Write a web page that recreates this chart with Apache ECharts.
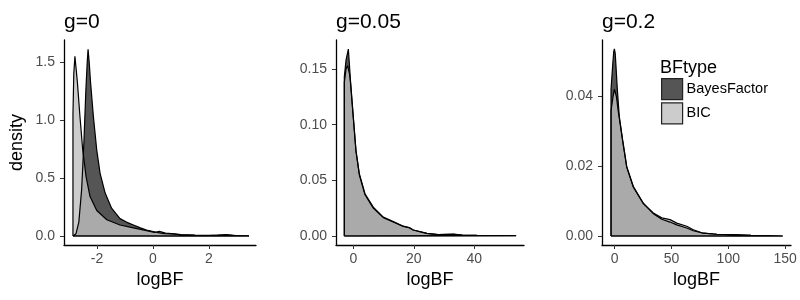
<!DOCTYPE html>
<html>
<head>
<meta charset="utf-8">
<script src="https://cdn.jsdelivr.net/npm/echarts@6/dist/echarts.min.js"></script>
<style>
html, body { margin: 0; padding: 0; background: #fff; }
#main { width: 800px; height: 300px; }
</style>
</head>
<body>
<div id="main"></div>
<script>
// density curves, one x list and one y list per series
var g0BayesX = [-2.86, -2.75, -2.65, -2.55, -2.47, -2.40, -2.35, -2.32, -2.28, -2.23, -2.13, -2.01, -1.89, -1.71, -1.48, -1.18, -0.95, -0.70, -0.45, -0.23, 0.13, 0.40, 0.70, 1.0, 1.5, 2.0, 2.3, 2.6, 2.85, 3.2, 3.43];
var g0BayesY = [0.0, 0.02, 0.12, 0.40, 0.80, 1.25, 1.50, 1.61, 1.50, 1.32, 1.03, 0.74, 0.54, 0.37, 0.24, 0.15, 0.12, 0.095, 0.07, 0.052, 0.032, 0.02, 0.018, 0.009, 0.005, 0.004, 0.007, 0.012, 0.006, 0.002, 0.001];
var g0BicX = [-2.86, -2.83, -2.79, -2.75, -2.70, -2.61, -2.51, -2.39, -2.25, -2.01, -1.65, -1.18, -0.70, -0.40, -0.15, 0.05, 0.22, 0.45, 0.75, 1.0, 1.5, 2.0, 2.5, 2.7, 3.0, 3.43];
var g0BicY = [1.05, 1.40, 1.55, 1.45, 1.32, 1.03, 0.74, 0.51, 0.34, 0.22, 0.14, 0.095, 0.07, 0.055, 0.042, 0.03, 0.04, 0.025, 0.018, 0.012, 0.007, 0.005, 0.006, 0.008, 0.003, 0.001];

var g005BayesX = [-2.97, -2.4, -1.64, -0.87, 0.0, 0.88, 1.98, 3.86, 6.6, 9.9, 13.2, 16.5, 18.5, 19.8, 24.3, 28.0, 33.1, 36.0, 40.8, 47.0, 53.8];
var g005BayesY = [0.143, 0.158, 0.168, 0.137, 0.107, 0.077, 0.056, 0.038, 0.026, 0.017, 0.0129, 0.0088, 0.0075, 0.0054, 0.0024, 0.0012, 0.0016, 0.0009, 0.0006, 0.0004, 0.0003];
var g005BicX = [-2.97, -2.4, -1.9, -1.2, -0.87, 0.0, 0.88, 1.98, 3.86, 6.6, 9.9, 13.2, 16.5, 18.5, 19.8, 24.3, 28.0, 33.1, 36.0, 40.8, 47.0, 53.8];
var g005BicY = [0.138, 0.150, 0.153, 0.145, 0.136, 0.106, 0.076, 0.055, 0.037, 0.025, 0.0165, 0.0126, 0.0086, 0.0074, 0.0054, 0.0024, 0.0012, 0.0015, 0.0009, 0.0006, 0.0004, 0.0003];

var g02BayesX = [-3.26, -1.8, -0.9, -0.3, 0.4, 1.14, 2.3, 4.05, 7.0, 10.6, 16.4, 25.2, 34.0, 41.4, 48.7, 54.6, 63.4, 69.2, 78.0, 90.0, 101.5, 120.0, 147.9];
var g02BayesY = [0.042, 0.049, 0.0528, 0.0537, 0.0525, 0.0486, 0.042, 0.0342, 0.0275, 0.0199, 0.0142, 0.0094, 0.0064, 0.0048, 0.0040, 0.0032, 0.0023, 0.0015, 0.0008, 0.0005, 0.0004, 0.0002, 0.0];
var g02BicX = [-3.26, -1.5, -0.3, 1.5, 3.0, 4.05, 7.0, 10.6, 16.4, 25.2, 34.0, 41.4, 48.7, 54.6, 63.4, 69.2, 78.0, 90.0, 101.5, 120.0, 147.9];
var g02BicY = [0.036, 0.040, 0.0421, 0.040, 0.036, 0.0338, 0.0272, 0.0197, 0.0140, 0.0093, 0.0066, 0.0052, 0.0047, 0.0037, 0.0028, 0.0018, 0.0008, 0.0005, 0.0004, 0.0002, 0.0];

var panelTitles = ['g=0', 'g=0.05', 'g=0.2'];
var bfTypes = ['BayesFactor', 'BIC'];
var xTicks = [[-2, 0, 2], [0, 20, 40], [0, 50, 100, 150]];
var yTicks = [[0, 0.5, 1.0, 1.5], [0, 0.05, 0.10, 0.15], [0, 0.02, 0.04]];
var yDigits = [1, 2, 2];

var xRanges = [[-3.18, 3.68], [-5.72, 56.4], [-11.2, 155.2]];
var yRanges = [[-0.0776, 1.690], [-0.0081, 0.1761], [-0.00258, 0.05624]];
var grids = [
    { left: 64, top: 40, width: 192, height: 205 },
    { left: 336, top: 40, width: 188, height: 205 },
    { left: 602, top: 40, width: 189, height: 205 }
];

var FONT = 'Liberation Sans';
var fills = { BayesFactor: '#2b2b2b', BIC: '#bfbfbf' };
var keyColors = { BayesFactor: '#555555', BIC: '#cccccc' };

// closed polygon: baseline -> curve -> baseline, like ggplot's full outline
function makePolygon(xs, ys) {
    var pts = [[xs[0], 0]];
    for (var i = 0; i < xs.length; i++) {
        pts.push([xs[i], ys[i]]);
    }
    pts.push([xs[xs.length - 1], 0]);
    pts.push([xs[0], 0]);
    return pts;
}

var curves = [
    [[g0BayesX, g0BayesY], [g0BicX, g0BicY]],
    [[g005BayesX, g005BayesY], [g005BicX, g005BicY]],
    [[g02BayesX, g02BayesY], [g02BicX, g02BicY]]
];

var xAxes = [], yAxes = [], series = [], titles = [];
for (var p = 0; p < 3; p++) {
    titles.push({
        text: panelTitles[p],
        left: grids[p].left,
        top: 12,
        padding: 0,
        textStyle: { fontFamily: FONT, fontSize: 21, fontWeight: 'normal', color: '#000' }
    });
    xAxes.push({
        type: 'value',
        gridIndex: p,
        min: xRanges[p][0],
        max: xRanges[p][1],
        name: 'logBF',
        nameLocation: 'middle',
        nameGap: 26,
        nameTextStyle: { fontFamily: FONT, fontSize: 18, color: '#000' },
        axisLine: { onZero: false, lineStyle: { color: '#000', width: 1.3 } },
        axisTick: { length: 4, lineStyle: { color: '#333', width: 1 }, customValues: xTicks[p] },
        axisLabel: {
            customValues: xTicks[p],
            fontFamily: FONT, fontSize: 14, color: '#4d4d4d', margin: 7
        },
        splitLine: { show: false }
    });
    (function (d) {
        yAxes.push({
            type: 'value',
            gridIndex: p,
            min: yRanges[p][0],
            max: yRanges[p][1],
            name: p === 0 ? 'density' : '',
            nameLocation: 'middle',
            nameGap: 38,
            nameTextStyle: { fontFamily: FONT, fontSize: 18, color: '#000' },
            axisLine: { onZero: false, lineStyle: { color: '#000', width: 1.3 } },
            axisTick: { length: 4, lineStyle: { color: '#333', width: 1 }, customValues: yTicks[p] },
            axisLabel: {
                customValues: yTicks[p],
                fontFamily: FONT, fontSize: 14, color: '#4d4d4d', margin: 9,
                formatter: function (v) { return v.toFixed(d); }
            },
            splitLine: { show: false }
        });
    })(yDigits[p]);
    for (var s = 0; s < 2; s++) {
        var name = bfTypes[s];
        series.push({
            name: name,
            type: 'line',
            xAxisIndex: p,
            yAxisIndex: p,
            data: makePolygon(curves[p][s][0], curves[p][s][1]),
            symbol: 'none',
            smooth: false,
            color: keyColors[name],
            lineStyle: { color: '#000', width: 1.2 },
            areaStyle: { color: fills[name], opacity: 0.8, origin: 0 },
            silent: true,
            animation: false
        });
    }
}

titles.push({
    text: 'BFtype',
    left: 660,
    top: 59,
    padding: 0,
    textStyle: { fontFamily: FONT, fontSize: 18, fontWeight: 'normal', color: '#000' }
});

var myChart = echarts.init(document.getElementById('main'), null, { renderer: 'canvas' });
myChart.setOption({
    backgroundColor: '#fff',
    animation: false,
    title: titles,
    grid: grids,
    xAxis: xAxes,
    yAxis: yAxes,
    legend: {
        orient: 'vertical',
        left: 661,
        top: 78,
        padding: 0,
        icon: 'rect',
        itemWidth: 21,
        itemHeight: 21,
        itemGap: 2,
        selectedMode: false,
        textStyle: { fontFamily: FONT, fontSize: 14.5, color: '#000', padding: [0, 0, 0, -1] },
        data: bfTypes.map(function (n) {
            return { name: n, itemStyle: { color: keyColors[n], borderColor: '#222', borderWidth: 1.2, opacity: 1 } };
        })
    },
    series: series
});
</script>
</body>
</html>
